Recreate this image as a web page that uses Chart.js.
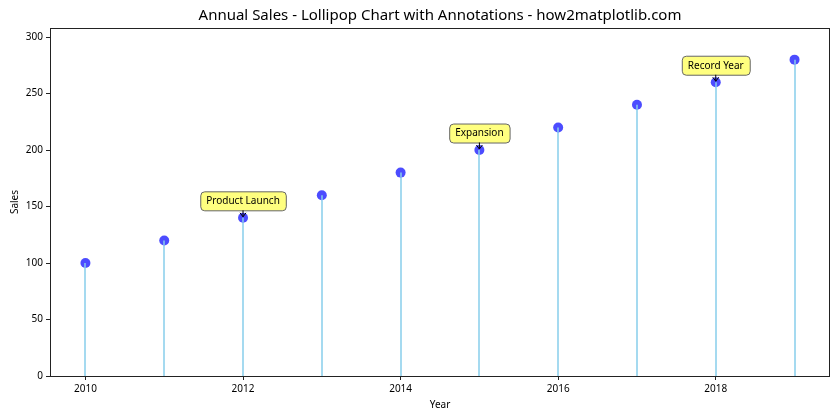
<!DOCTYPE html>
<html>
<head>
<meta charset="utf-8">
<script src="https://cdn.jsdelivr.net/npm/chart.js@4"></script>
<style>
  body { margin: 0; background: #fff; }
  #wrap { width: 840px; height: 420px; }
</style>
</head>
<body>
<div id="wrap"><canvas id="mycanvas" width="840" height="420"></canvas></div>
<script>
var years = [2010, 2011, 2012, 2013, 2014, 2015, 2016, 2017, 2018, 2019];
var sales = [100, 120, 140, 160, 180, 200, 220, 240, 260, 280];
var xTicks = [2010, 2012, 2014, 2016, 2018];
var yTicks = [0, 50, 100, 150, 200, 250, 300];
var annoYears = [2012, 2015, 2018];
var annoTexts = ['Product Launch', 'Expansion', 'Record Year'];

var FONT = "'Noto Sans', 'Open Sans', sans-serif";
var STEM = 'rgba(135, 206, 235, 0.75)';

var points = [];
for (var i in years) {
  points.push({x: years[i], y: sales[i]});
}

// stems, frame, title and annotation boxes
var lollipop = {
  id: 'lollipop',
  beforeDatasetsDraw: function(chart) {
    var ctx = chart.ctx, xs = chart.scales.x, ys = chart.scales.y;
    ctx.save();
    ctx.strokeStyle = STEM;
    ctx.lineWidth = 2;
    for (var i in years) {
      var px = Math.round(xs.getPixelForValue(years[i]));
      ctx.beginPath();
      ctx.moveTo(px, ys.getPixelForValue(0));
      ctx.lineTo(px, ys.getPixelForValue(sales[i]) + 5);
      ctx.stroke();
    }
    ctx.restore();
  },
  afterDatasetsDraw: function(chart) {
    var ctx = chart.ctx, xs = chart.scales.x, ys = chart.scales.y, a = chart.chartArea;
    ctx.save();
    // stems over markers, like the reference
    ctx.strokeStyle = STEM;
    ctx.lineWidth = 2;
    for (var i in years) {
      var px = Math.round(xs.getPixelForValue(years[i]));
      var py = ys.getPixelForValue(sales[i]);
      ctx.beginPath();
      ctx.moveTo(px, py + 5);
      ctx.lineTo(px, py);
      ctx.stroke();
    }
    // frame
    ctx.strokeStyle = '#222';
    ctx.lineWidth = 1;
    ctx.strokeRect(a.left + 0.5, a.top + 0.5, a.right - a.left - 1, a.bottom - a.top);
    // title
    ctx.fillStyle = '#000';
    ctx.font = '15px ' + FONT;
    ctx.textAlign = 'center';
    ctx.textBaseline = 'middle';
    ctx.fillText('Annual Sales - Lollipop Chart with Annotations - how2matplotlib.com', (a.left + a.right) / 2, 16);
    // annotations
    ctx.font = '10px ' + FONT;
    for (var j in annoYears) {
      var k = years.indexOf(annoYears[j]);
      var px = xs.getPixelForValue(annoYears[j]);
      var py = ys.getPixelForValue(sales[k]);
      var w = ctx.measureText(annoTexts[j]).width + 12;
      var h = 19;
      var cy = py - 17;
      var bx = px - w / 2, by = cy - h / 2;
      ctx.beginPath();
      ctx.roundRect(bx + 0.5, by + 0.5, w, h, 4);
      ctx.fillStyle = 'rgba(255, 255, 0, 0.5)';
      ctx.fill();
      ctx.strokeStyle = '#666';
      ctx.lineWidth = 1;
      ctx.stroke();
      ctx.fillStyle = '#000';
      ctx.fillText(annoTexts[j], px, cy + 0.5);
      // arrow
      ctx.strokeStyle = '#000';
      ctx.beginPath();
      ctx.moveTo(px, by + h);
      ctx.lineTo(px, py - 1);
      ctx.moveTo(px - 3, py - 5);
      ctx.lineTo(px, py - 1);
      ctx.lineTo(px + 3, py - 5);
      ctx.stroke();
    }
    ctx.restore();
  }
};

var ctx = document.getElementById('mycanvas');

var chart = new Chart(ctx, {
  type: 'scatter',
  data: {
    datasets: [{
      data: points,
      pointRadius: 5,
      pointHoverRadius: 5,
      pointBackgroundColor: 'rgba(0, 0, 255, 0.7)',
      pointBorderColor: 'rgba(0, 0, 255, 0.7)',
      pointBorderWidth: 0
    }]
  },
  plugins: [lollipop],
  options: {
    responsive: false,
    animation: false,
    layout: { padding: { top: 28, left: 0, right: 10, bottom: 0 } },
    plugins: {
      legend: { display: false },
      tooltip: { enabled: false }
    },
    scales: {
      x: {
        type: 'linear',
        min: 2009.55,
        max: 2019.45,
        afterBuildTicks: function(s) { s.ticks = xTicks.map(function(v) { return {value: v}; }); },
        afterFit: function(s) { s.height = 44; },
        grid: { drawOnChartArea: false, drawTicks: true, tickLength: 4, color: '#222' },
        border: { display: false },
        ticks: {
          color: '#000',
          font: { family: FONT, size: 10 },
          padding: 3,
          maxRotation: 0,
          callback: function(v) { return String(v); }
        },
        title: {
          display: true,
          text: 'Year',
          color: '#000',
          font: { family: FONT, size: 10 },
          padding: { top: 2, bottom: 9 }
        }
      },
      y: {
        min: 0,
        max: 308,
        afterBuildTicks: function(s) { s.ticks = yTicks.map(function(v) { return {value: v}; }); },
        afterFit: function(s) { s.width = 50; },
        grid: { drawOnChartArea: false, drawTicks: true, tickLength: 4, color: '#222' },
        border: { display: false },
        ticks: {
          color: '#000',
          font: { family: FONT, size: 10 },
          padding: 3
        },
        title: {
          display: true,
          text: 'Sales',
          color: '#000',
          font: { family: FONT, size: 10 },
          padding: { top: 9, bottom: 0 }
        }
      }
    }
  }
});
</script>
</body>
</html>
